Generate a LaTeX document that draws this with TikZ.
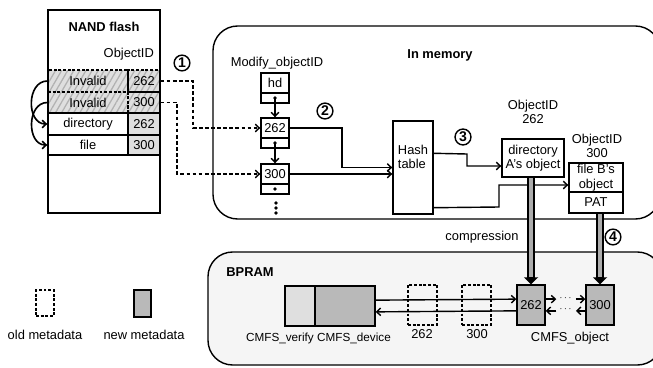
\documentclass[tikz,border=0pt]{standalone}
\usepackage{fontspec}
\setmainfont{Liberation Sans}
\usetikzlibrary{arrows.meta,calc,patterns.meta,positioning}
\tikzset{
  wh/.style 2 args={minimum width=#1*0.03cm, minimum height=#2*0.03cm},
  cell/.style={draw, line width=1.2pt, inner sep=0pt},
  oldcell/.style={draw, line width=1pt, dash pattern=on 2.5pt off 1.5pt, inner sep=0pt},
  hatched/.style={pattern={Lines[angle=60,distance=4.5pt,line width=1.1pt]}, pattern color=gray!60},
  newmeta/.style={cell, fill=gray!55},
  stepnum/.style={circle, draw, line width=1.2pt, inner sep=1pt, font=\bfseries\fontsize{12}{12}\selectfont},
  link/.style={-{Straight Barb[length=3.4pt,width=6.5pt]}, line width=1.2pt},
  oldlink/.style={link, dash pattern=on 3.2pt off 2pt},
  thickarrow/.style={line width=6pt, -{Triangle[length=6pt,width=12pt]}},
  sublbl/.style={font=\fontsize{10}{11}\selectfont},
}
\begin{document}
\begin{tikzpicture}[x=0.03cm, y=-0.03cm, font=\fontsize{11}{12.5}\selectfont]
  \useasboundingbox (0,0) rectangle (653,367);

  %%%%% NAND flash %%%%%
  \node[font=\bfseries\fontsize{11}{12}\selectfont] (nandlbl) at (104,27) {NAND flash};
  \node[anchor=east] (nandid) at (158,54) {ObjectID};
  \fill[gray!25] (48,70) rectangle (160,113);
  \fill[hatched] (48,70) rectangle (160,113);
  \node[oldcell, wh={80}{22}] (inv1) at (88,81) {Invalid};
  \node[oldcell, wh={32}{22}] (inv1id) at (144,81) {262};
  \node[oldcell, wh={80}{21}] (inv2) at (88,102.5) {Invalid};
  \node[oldcell, wh={32}{21}] (inv2id) at (144,102.5) {300};
  \node[cell, fill=white, wh={80}{22}] (dir) at (88,124) {directory};
  \node[cell, fill=gray!25, wh={32}{22}] (dirid) at (144,124) {262};
  \node[cell, fill=white, wh={80}{20}] (file) at (88,145) {file};
  \node[cell, fill=gray!25, wh={32}{20}] (fileid) at (144,145) {300};
  \draw[line width=1.2pt] (48,10) rectangle (160,213);
  \draw[link, line width=1.4pt] (inv1.west) to[out=180, in=180, looseness=1.25] (dir.west);
  \draw[link, line width=1.4pt] (inv2.west) to[out=180, in=180, looseness=1.25] (file.west);

  %%%%% In memory %%%%%
  \draw[line width=1.2pt, rounded corners=21pt] (213,26) rectangle (660,219);
  \node[font=\bfseries\fontsize{11}{12}\selectfont] (memlbl) at (440,55) {In memory};
  \node (modlbl) at (277,63) {Modify\_objectID};

  \node[cell, wh={28}{20}] (hd) at (275,83) {hd};
  \node[cell, wh={28}{10}] (hdp) at (275,98) {};
  \node[cell, wh={28}{20}] (n262) at (275,128) {262};
  \node[cell, wh={28}{10}] (n262p) at (275,143) {};
  \node[cell, wh={28}{20}] (n300) at (275,174) {300};
  \node[cell, wh={28}{10}] (n300p) at (275,189) {};
  \foreach \p in {hdp,n262p,n300p}
    \fill (\p.center) circle (1.6pt);
  \draw[link] (hdp.center) -- (n262.north);
  \draw[link] (n262p.center) -- (n300.north);
  \foreach \y in {203,208,213}
    \fill (276,\y) circle (1.6pt);

  \node[stepnum] (s1) at (182,63) {1};
  \draw[oldlink] (inv1id.east) -- (193,81) |- (n262.west);
  \draw[oldlink] (inv2id.east) -- (177,102.5) |- (n300.west);

  \node[stepnum] (s2) at (325,111) {2};
  \node[cell, wh={40}{93}] (hash) at (413,167.5) {};
  \node[align=left] (hashlbl) at (413,157) {Hash\\table};
  \draw[link] (n262.east) -- (342,128) |- (hash.west);
  \draw[link] (n300.east) -- (n300.east -| hash.west);

  \node[stepnum] (s3) at (463,137) {3};
  \node[align=center] (id262) at (533,112) {ObjectID\\262};
  \node[cell, wh={62}{38}, align=center] (dirA) at (533,158) {directory\\A's object};
  \node[align=center] (id300) at (597,146) {ObjectID\\300};
  \node[cell, wh={54}{29}, align=center] (fileB) at (596,177.5) {file B's\\object};
  \node[cell, wh={54}{21}] (pat) at (596,202.5) {PAT};
  \draw[link] ($(hash.north east)+(0,33)$) -- (467,154) |- ($(dirA.west)+(0,8)$);
  \draw[link] ($(hash.south east)+(0,-7)$) -- (499,207) |- ($(fileB.west)+(0,7.5)$);

  \node (complbl) at (482,237) {compression};
  \node[stepnum] (s4) at (613,237) {4};

  %%%%% BPRAM %%%%%
  \draw[line width=1.2pt, rounded corners=21pt, fill=gray!8] (208,252) rectangle (662,365);
  \node[font=\bfseries\fontsize{11}{12}\selectfont] (bpramlbl) at (250,272) {BPRAM};

  \node[cell, fill=gray!25, wh={30}{40}] (verify) at (300,306) {};
  \node[newmeta, wh={60}{40}] (device) at (345,306) {};
  \node[sublbl] (verifylbl) at (280,338) {CMFS\_verify};
  \node[sublbl] (devicelbl) at (354,338) {CMFS\_device};

  \node[oldcell, wh={29}{40}] (d262) at (422.5,305) {};
  \node[oldcell, wh={29}{40}] (d300) at (476.5,305) {};
  \node (d262lbl) at (422,334) {262};
  \node (d300lbl) at (477,334) {300};

  \node[newmeta, wh={28}{40}] (o262) at (531,305) {262};
  \node[newmeta, wh={28}{40}] (o300) at (600,305) {300};
  \node (objlbl) at (570,338) {CMFS\_object};

  \draw[link] ([yshift=5pt]device.east) -- ([yshift=5pt]o262.west);
  \draw[link] ([yshift=-5pt]o262.west) -- ([yshift=-5pt]device.east);
  \draw[link] ([yshift=5pt]o262.east) -- ([yshift=5pt,xshift=9pt]o262.east);
  \draw[link] ([yshift=5pt,xshift=-8pt]o300.west) -- ([yshift=5pt]o300.west);
  \draw[link] ([yshift=-5pt,xshift=9pt]o262.east) -- ([yshift=-5pt]o262.east);
  \draw[link] ([yshift=-5pt]o300.west) -- ([yshift=-5pt,xshift=-8pt]o300.west);
  \node[font=\fontsize{8}{8}\selectfont] (dotsa) at ([yshift=6pt]$(o262.east)!0.5!(o300.west)$) {$\cdots$};
  \node[font=\fontsize{8}{8}\selectfont] (dotsb) at ([yshift=-4pt]$(o262.east)!0.5!(o300.west)$) {$\cdots$};

  % compression into BPRAM
  \draw[thickarrow] (dirA.south -| o262.north) -- (o262.north);
  \draw[line width=3.6pt, gray!65, shorten >=6.5pt, shorten <=0.6pt] (dirA.south -| o262.north) -- (o262.north);
  \draw[thickarrow] (pat.south -| o300.north) -- (o300.north);
  \draw[line width=3.6pt, gray!65, shorten >=6.5pt, shorten <=0.6pt] (pat.south -| o300.north) -- (o300.north);

  %%%%% legend %%%%%
  \node[oldcell, wh={18}{26}] (oldkey) at (45,303) {};
  \node (oldlbl) at (45,335) {old metadata};
  \node[newmeta, wh={17}{27}] (newkey) at (142.5,303.5) {};
  \node (newlbl) at (144,335) {new metadata};
\end{tikzpicture}
\end{document}
